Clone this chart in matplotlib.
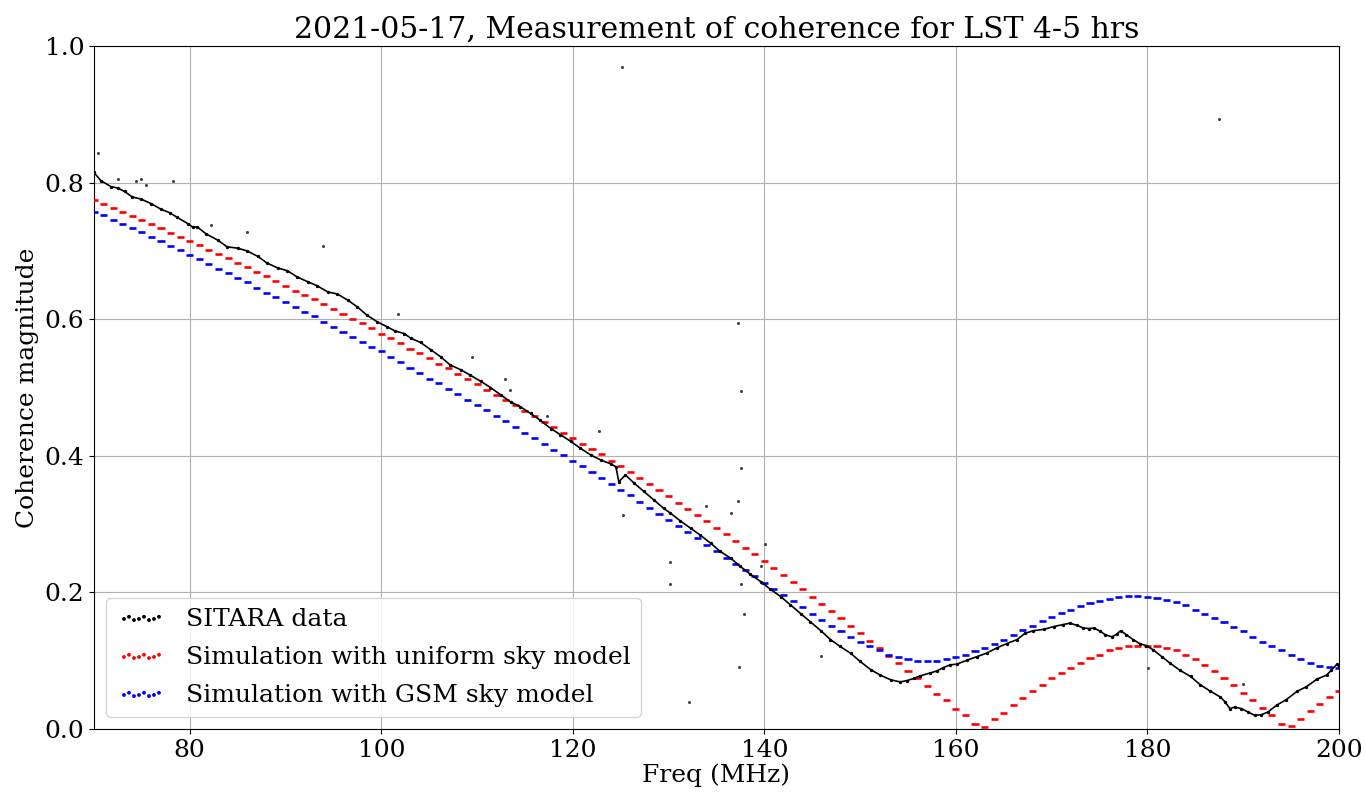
import numpy as np
import matplotlib.pyplot as plt

plt.rcParams['font.family'] = 'DejaVu Serif'

# simulations, one value per MHz
sim_freq = np.arange(70, 201)
sim_uniform = [
    0.774, 0.769, 0.763, 0.757, 0.751, 0.745, 0.739, 0.733, 0.726, 0.720,
    0.714, 0.708, 0.702, 0.696, 0.689, 0.682, 0.676, 0.669, 0.663, 0.656,
    0.649, 0.642, 0.636, 0.629, 0.622, 0.615, 0.608, 0.601, 0.594, 0.587,
    0.579, 0.572, 0.565, 0.557, 0.550, 0.543, 0.535, 0.528, 0.520, 0.512,
    0.505, 0.497, 0.489, 0.482, 0.474, 0.466, 0.458, 0.450, 0.442, 0.434,
    0.426, 0.418, 0.410, 0.402, 0.393, 0.385, 0.376, 0.367, 0.359, 0.350,
    0.341, 0.331, 0.322, 0.313, 0.304, 0.295, 0.286, 0.275, 0.265, 0.256,
    0.246, 0.236, 0.226, 0.216, 0.205, 0.194, 0.183, 0.173, 0.162, 0.151,
    0.140, 0.129, 0.118, 0.107, 0.097, 0.085, 0.075, 0.063, 0.052, 0.042,
    0.030, 0.020, 0.008, 0.003, 0.014, 0.024, 0.035, 0.045, 0.055, 0.064,
    0.074, 0.082, 0.090, 0.097, 0.104, 0.109, 0.115, 0.118, 0.121, 0.122,
    0.122, 0.121, 0.119, 0.115, 0.109, 0.103, 0.094, 0.085, 0.075, 0.064,
    0.053, 0.042, 0.031, 0.020, 0.008, 0.004, 0.015, 0.026, 0.037, 0.047,
    0.056]
sim_gsm = [
    0.757, 0.752, 0.745, 0.739, 0.733, 0.727, 0.720, 0.714, 0.707, 0.701,
    0.694, 0.688, 0.681, 0.674, 0.667, 0.660, 0.654, 0.646, 0.639, 0.633,
    0.625, 0.618, 0.611, 0.604, 0.596, 0.589, 0.582, 0.574, 0.567, 0.560,
    0.553, 0.545, 0.537, 0.529, 0.521, 0.513, 0.506, 0.498, 0.490, 0.482,
    0.474, 0.467, 0.458, 0.451, 0.442, 0.434, 0.426, 0.417, 0.409, 0.401,
    0.393, 0.385, 0.376, 0.368, 0.359, 0.350, 0.342, 0.333, 0.324, 0.315,
    0.306, 0.297, 0.288, 0.279, 0.269, 0.261, 0.251, 0.242, 0.233, 0.224,
    0.214, 0.205, 0.196, 0.187, 0.178, 0.169, 0.160, 0.151, 0.143, 0.135,
    0.127, 0.121, 0.115, 0.109, 0.105, 0.102, 0.100, 0.100, 0.100, 0.102,
    0.105, 0.109, 0.114, 0.119, 0.125, 0.131, 0.138, 0.145, 0.151, 0.158,
    0.164, 0.170, 0.175, 0.180, 0.185, 0.188, 0.191, 0.193, 0.195, 0.195,
    0.194, 0.192, 0.189, 0.186, 0.181, 0.175, 0.169, 0.163, 0.156, 0.149,
    0.143, 0.135, 0.128, 0.122, 0.115, 0.108, 0.103, 0.097, 0.092, 0.091,
    0.090]

# measured coherence (main track)
sit_freq = [70.0, 70.7, 71.8, 72.5, 73.2, 74.0, 74.9, 76.0, 77.0, 77.9,
            78.7, 79.8, 80.3, 80.8, 81.7, 82.9, 83.9, 85.0, 86.0, 87.1,
            88.1, 89.2, 90.2, 91.2, 92.3, 93.3, 94.4, 95.4, 96.5, 97.5,
            98.5, 99.6, 100.6, 101.4, 102.4, 103.1, 104.1, 105.2, 106.2, 107.2,
            108.3, 109.3, 110.4, 111.4, 112.5, 113.5, 114.5, 115.6, 116.6, 117.7,
            118.7, 119.8, 120.8, 121.9, 122.9, 124.0, 124.5, 124.8, 125.5, 126.4,
            127.4, 128.5, 129.5, 130.2, 131.2, 132.3, 133.3, 134.4, 135.4, 136.5,
            137.5, 138.5, 139.6, 140.6, 141.7, 142.7, 143.8, 144.8, 145.9, 146.9,
            147.9, 149.0, 150.0, 151.1, 152.1, 153.2, 154.2, 154.9, 155.6, 156.3,
            157.3, 158.0, 158.7, 159.4, 160.1, 161.2, 162.2, 163.2, 164.3, 165.3,
            166.4, 167.2, 168.1, 169.2, 170.2, 171.2, 171.9, 172.6, 173.3, 173.9,
            174.4, 175.1, 175.6, 176.3, 176.8, 177.2, 177.8, 178.5, 179.2, 179.9,
            180.6, 181.5, 182.4, 183.4, 184.5, 185.5, 186.5, 187.6, 188.1, 188.6,
            189.1, 189.8, 190.5, 191.2, 191.9, 192.6, 193.5, 194.5, 195.6, 196.6,
            197.7, 198.7, 199.2, 199.8, 200.0]
sit_val = [0.815, 0.803, 0.794, 0.792, 0.787, 0.779, 0.776, 0.769, 0.761, 0.756,
           0.749, 0.740, 0.735, 0.735, 0.725, 0.716, 0.706, 0.704, 0.700, 0.692,
           0.682, 0.675, 0.671, 0.662, 0.655, 0.649, 0.640, 0.637, 0.628, 0.618,
           0.606, 0.596, 0.589, 0.583, 0.579, 0.572, 0.566, 0.555, 0.545, 0.533,
           0.526, 0.518, 0.509, 0.500, 0.489, 0.479, 0.472, 0.462, 0.452, 0.440,
           0.431, 0.421, 0.411, 0.401, 0.394, 0.388, 0.384, 0.362, 0.372, 0.360,
           0.348, 0.335, 0.323, 0.316, 0.305, 0.294, 0.284, 0.272, 0.260, 0.250,
           0.238, 0.227, 0.216, 0.205, 0.194, 0.182, 0.169, 0.157, 0.144, 0.131,
           0.121, 0.111, 0.099, 0.087, 0.079, 0.072, 0.069, 0.071, 0.074, 0.078,
           0.082, 0.085, 0.090, 0.094, 0.095, 0.101, 0.106, 0.111, 0.119, 0.125,
           0.131, 0.140, 0.144, 0.146, 0.150, 0.153, 0.155, 0.152, 0.148, 0.147,
           0.148, 0.143, 0.138, 0.135, 0.139, 0.144, 0.138, 0.131, 0.125, 0.122,
           0.116, 0.106, 0.096, 0.086, 0.077, 0.065, 0.056, 0.047, 0.040, 0.030,
           0.032, 0.030, 0.025, 0.020, 0.021, 0.025, 0.035, 0.043, 0.055, 0.062,
           0.073, 0.079, 0.086, 0.095, 0.093]

# stray channels
out_freq = [70.4, 72.5, 74.4, 74.9, 75.4, 78.2, 82.2, 86.0, 93.9, 101.7,
            109.5, 112.9, 113.4, 117.3, 122.7, 125.2, 125.1, 130.1, 130.1, 132.1,
            133.9, 136.5, 137.2, 137.4, 137.6, 137.9, 137.3, 137.6, 137.6, 139.6,
            140.1, 145.9, 180.1, 187.5, 190.0]
out_val = [0.844, 0.806, 0.802, 0.805, 0.797, 0.803, 0.738, 0.728, 0.707, 0.608,
           0.544, 0.512, 0.496, 0.459, 0.437, 0.313, 0.969, 0.245, 0.213, 0.039,
           0.327, 0.317, 0.334, 0.091, 0.212, 0.168, 0.594, 0.495, 0.382, 0.239,
           0.271, 0.107, 0.089, 0.893, 0.066]

fig = plt.figure(figsize=(13.66, 7.92), dpi=100)
ax = fig.add_axes([0.0688, 0.0795, 0.9114, 0.8624])

half = 0.37
ax.hlines(sim_uniform, sim_freq - half, sim_freq + half, colors='red', lw=1.9, zorder=3)
ax.hlines(sim_gsm, sim_freq - half, sim_freq + half, colors='blue', lw=1.9, zorder=3)

ax.plot(sit_freq, sit_val, color='black', lw=1.2, zorder=4)
ax.scatter(sit_freq, sit_val, s=2, c='black', zorder=4)
ax.scatter(out_freq, out_val, s=1.5, c='#444444', zorder=4)

# legend proxies
ax.scatter([], [], s=3, c='black', label='SITARA data')
ax.scatter([], [], s=3, c='red', label='Simulation with uniform sky model')
ax.scatter([], [], s=3, c='blue', label='Simulation with GSM sky model')
ax.legend(loc='lower left', fontsize=18, scatterpoints=8, labelspacing=0.6)

ax.set_xlim(70, 200)
ax.set_ylim(0, 1)
ax.grid(True)
ax.tick_params(labelsize=18)
ax.set_xlabel('Freq (MHz)', fontsize=18, labelpad=1)
ax.set_ylabel('Coherence magnitude', fontsize=18)
ax.set_title('2021-05-17, Measurement of coherence for LST 4-5 hrs', fontsize=21.5)

fig.savefig('out.png', dpi=100)
